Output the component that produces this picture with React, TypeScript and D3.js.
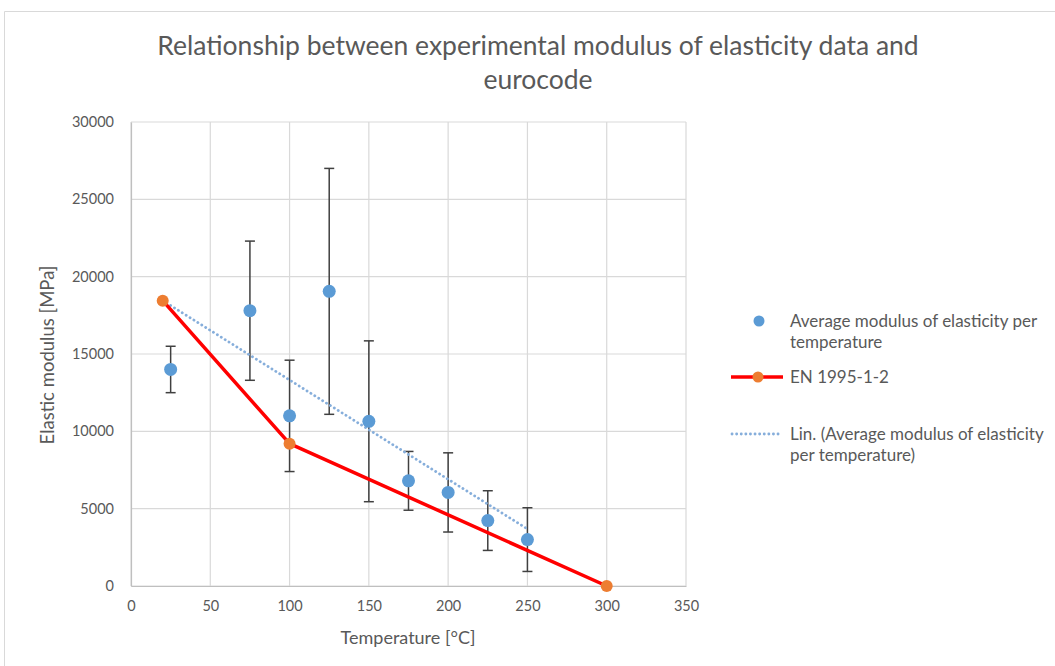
import React, { useRef, useEffect } from 'react';
import * as d3 from 'd3';

// measured averages (blue markers) with +/- error
const temps = [25, 75, 100, 125, 150, 175, 200, 225, 250];
const avgModulus = [14000, 17800, 11000, 19050, 10650, 6800, 6050, 4230, 3000];
const errModulus = [1500, 4500, 3600, 7950, 5200, 1900, 2560, 1930, 2060];

// EN 1995-1-2 reduction line
const enTemps = [20, 100, 300];
const enModulus = [18450, 9200, 0];

const xTicks = [0, 50, 100, 150, 200, 250, 300, 350];
const yTicks = [0, 5000, 10000, 15000, 20000, 25000, 30000];

const BLUE = '#5b9bd5';
const ORANGE = '#ed7d31';
const RED = '#ff0000';
const TEXT = '#595959';
const FONT = 'Lato, "Liberation Sans", Arial, sans-serif';

function ModulusChart(): React.ReactElement {
  const svgRef = useRef<SVGSVGElement | null>(null);

  useEffect(() => {
    const svg = d3.select(svgRef.current);
    svg.selectAll('*').remove();

    const x = d3.scaleLinear().domain([0, 350]).range([131, 686]);
    const y = d3.scaleLinear().domain([0, 30000]).range([586, 122]);

    // chart frame
    svg.append('path')
      .attr('d', 'M4.5,700 L4.5,11.5 L1060,11.5')
      .attr('fill', 'none')
      .attr('stroke', '#d9d9d9');

    // title
    const title = svg.append('text')
      .attr('text-anchor', 'middle')
      .attr('fill', TEXT)
      .style('font-family', FONT)
      .style('font-size', '26.5px');
    title.append('tspan').attr('x', 538).attr('y', 55)
      .text('Relationship between experimental modulus of elasticity data and');
    title.append('tspan').attr('x', 538).attr('y', 89).text('eurocode');

    // gridlines
    svg.append('g')
      .selectAll('line')
      .data(yTicks)
      .enter()
      .append('line')
      .attr('x1', x(0))
      .attr('x2', x(350))
      .attr('y1', (d) => y(d))
      .attr('y2', (d) => y(d))
      .attr('stroke', '#d9d9d9')
      .attr('stroke-width', 1.2);
    svg.append('g')
      .selectAll('line')
      .data(xTicks)
      .enter()
      .append('line')
      .attr('x1', (d) => x(d))
      .attr('x2', (d) => x(d))
      .attr('y1', y(0))
      .attr('y2', y(30000))
      .attr('stroke', '#d9d9d9')
      .attr('stroke-width', 1.2);

    // axes (labels only)
    const xAxis = svg.append('g')
      .attr('transform', `translate(0,${y(0)})`)
      .call(d3.axisBottom(x).tickValues(xTicks).tickSize(0).tickPadding(15).tickFormat(d3.format('d')));
    const yAxis = svg.append('g')
      .attr('transform', `translate(${x(0)},0)`)
      .call(d3.axisLeft(y).tickValues(yTicks).tickSize(0).tickPadding(17).tickFormat(d3.format('d')));
    [xAxis, yAxis].forEach((g) => {
      g.select('.domain').attr('stroke', '#bfbfbf').attr('stroke-width', 1.2);
      g.selectAll('text')
        .attr('fill', TEXT)
        .style('font-family', FONT)
        .style('font-size', '14.5px');
    });

    // axis titles
    svg.append('text')
      .attr('x', 408)
      .attr('y', 644)
      .attr('text-anchor', 'middle')
      .attr('fill', TEXT)
      .style('font-family', FONT)
      .style('font-size', '18px')
      .text('Temperature [°C]');
    svg.append('text')
      .attr('transform', 'translate(54,355) rotate(-90)')
      .attr('text-anchor', 'middle')
      .attr('fill', TEXT)
      .style('font-family', FONT)
      .style('font-size', '18.5px')
      .text('Elastic modulus [MPa]');

    // error bars
    const eb = svg.append('g')
      .attr('stroke', '#404040')
      .attr('stroke-width', 1.5);
    temps.forEach((t, i) => {
      const lo = y(avgModulus[i] - errModulus[i]);
      const hi = y(avgModulus[i] + errModulus[i]);
      eb.append('line').attr('x1', x(t)).attr('x2', x(t)).attr('y1', lo).attr('y2', hi);
      eb.append('line').attr('x1', x(t) - 5).attr('x2', x(t) + 5).attr('y1', lo).attr('y2', lo);
      eb.append('line').attr('x1', x(t) - 5).attr('x2', x(t) + 5).attr('y1', hi).attr('y2', hi);
    });

    // linear trend of the measured averages (least squares)
    const mx = d3.mean(temps) as number;
    const my = d3.mean(avgModulus) as number;
    const slope = d3.sum(temps, (t, i) => (t - mx) * (avgModulus[i] - my))
      / d3.sum(temps, (t) => (t - mx) ** 2);
    const icpt = my - slope * mx;
    const trendX = [20, 250];
    svg.append('path')
      .datum(trendX)
      .attr('d', d3.line<number>().x((d) => x(d)).y((d) => y(icpt + slope * d)))
      .attr('fill', 'none')
      .attr('stroke', '#86aedb')
      .attr('stroke-width', 2.8)
      .attr('stroke-linecap', 'round')
      .attr('stroke-dasharray', '0.1 4.5');

    // EN 1995-1-2
    const enData = enTemps.map((t, i) => [t, enModulus[i]] as [number, number]);
    svg.append('path')
      .datum(enData)
      .attr('d', d3.line().x((d) => x(d[0])).y((d) => y(d[1])))
      .attr('fill', 'none')
      .attr('stroke', RED)
      .attr('stroke-width', 3.5)
      .attr('stroke-linejoin', 'round');
    svg.append('g')
      .selectAll('circle')
      .data(enData)
      .enter()
      .append('circle')
      .attr('cx', (d) => x(d[0]))
      .attr('cy', (d) => y(d[1]))
      .attr('r', 6)
      .attr('fill', ORANGE);

    // measured averages
    svg.append('g')
      .selectAll('circle')
      .data(temps)
      .enter()
      .append('circle')
      .attr('cx', (d) => x(d))
      .attr('cy', (d, i) => y(avgModulus[i]))
      .attr('r', 6.5)
      .attr('fill', BLUE);

    // legend
    const lg = svg.append('g')
      .style('font-family', FONT)
      .style('font-size', '17px')
      .attr('fill', TEXT);
    lg.append('circle').attr('cx', 759).attr('cy', 321).attr('r', 5.5).attr('fill', BLUE);
    const l1 = lg.append('text');
    l1.append('tspan').attr('x', 790).attr('y', 327).text('Average modulus of elasticity per');
    l1.append('tspan').attr('x', 790).attr('y', 348).text('temperature');

    lg.append('line').attr('x1', 731).attr('x2', 783).attr('y1', 377).attr('y2', 377)
      .attr('stroke', RED).attr('stroke-width', 3.5);
    lg.append('circle').attr('cx', 758).attr('cy', 377).attr('r', 5.5).attr('fill', ORANGE);
    lg.append('text').attr('x', 790).attr('y', 383).text('EN 1995-1-2');

    lg.append('line').attr('x1', 732).attr('x2', 782).attr('y1', 434).attr('y2', 434)
      .attr('stroke', '#86aedb').attr('stroke-width', 2.8)
      .attr('stroke-linecap', 'round').attr('stroke-dasharray', '0.1 4.5');
    const l3 = lg.append('text');
    l3.append('tspan').attr('x', 790).attr('y', 440).text('Lin. (Average modulus of elasticity');
    l3.append('tspan').attr('x', 790).attr('y', 461).text('per temperature)');
  }, []);

  return (
    <svg
      ref={svgRef}
      width={1055}
      height={666}
      style={{ position: 'absolute', left: 0, top: 0, background: '#fff' }}
    />
  );
}

export default function App(): React.ReactElement {
  return <ModulusChart />;
}
